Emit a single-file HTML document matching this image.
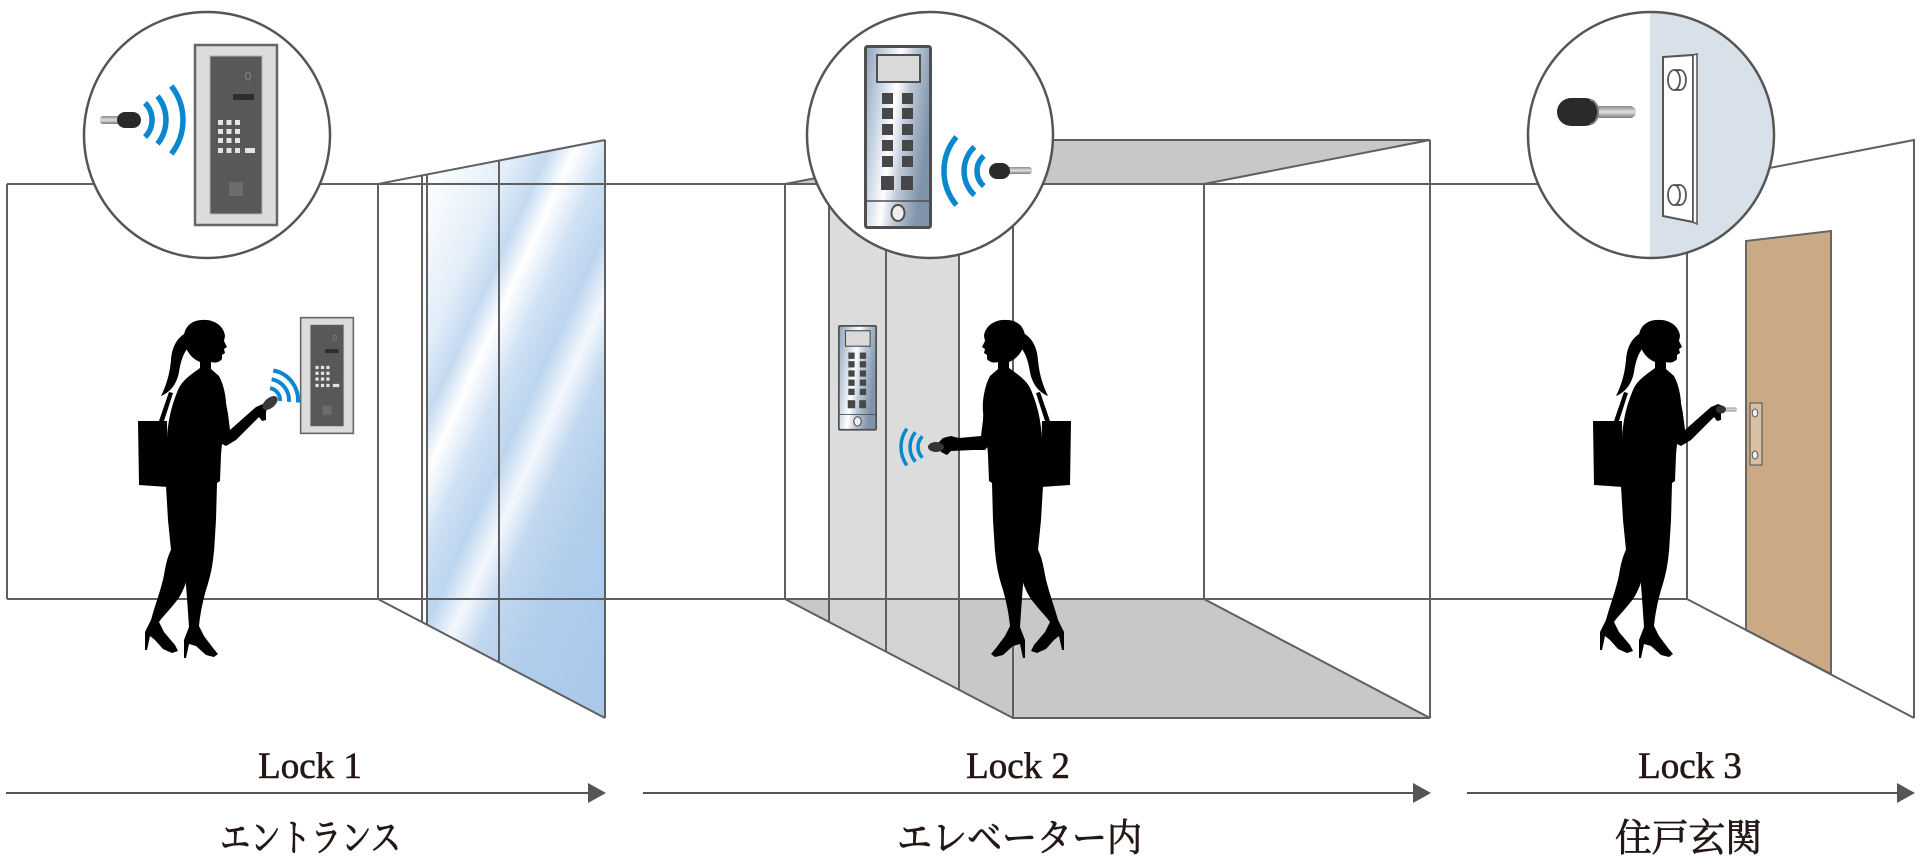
<!DOCTYPE html>
<html>
<head>
<meta charset="utf-8">
<style>
html,body{margin:0;padding:0;background:#fff;}
svg{display:block;}
text{font-family:"Liberation Serif","Noto Serif CJK SC",serif;fill:#231815;}
</style>
</head>
<body>
<svg width="1920" height="868" viewBox="0 0 1920 868" xmlns="http://www.w3.org/2000/svg">
<defs>
  <linearGradient id="glass" gradientUnits="userSpaceOnUse" x1="427" y1="174" x2="780" y2="335">
    <stop offset="0" stop-color="#ffffff"/>
    <stop offset="0.18" stop-color="#e3eef9"/>
    <stop offset="0.26" stop-color="#c4daf1"/>
    <stop offset="0.32" stop-color="#ffffff"/>
    <stop offset="0.40" stop-color="#cfe1f4"/>
    <stop offset="0.48" stop-color="#bcd5ef"/>
    <stop offset="0.55" stop-color="#f4f8fd"/>
    <stop offset="0.62" stop-color="#c2d8f0"/>
    <stop offset="0.75" stop-color="#b0cdeb"/>
    <stop offset="1" stop-color="#a8c8ea"/>
  </linearGradient>
  <linearGradient id="metal" x1="0" y1="0" x2="1" y2="0.35">
    <stop offset="0" stop-color="#8ea2ba"/>
    <stop offset="0.3" stop-color="#d0dae6"/>
    <stop offset="0.5" stop-color="#ffffff"/>
    <stop offset="0.68" stop-color="#bfcbd9"/>
    <stop offset="1" stop-color="#7f93ab"/>
  </linearGradient>
  <linearGradient id="rod" x1="0" y1="0" x2="0" y2="1">
    <stop offset="0" stop-color="#8a8a8a"/>
    <stop offset="0.5" stop-color="#e2e2e2"/>
    <stop offset="1" stop-color="#7a7a7a"/>
  </linearGradient>
  <clipPath id="c3"><circle cx="1651" cy="135" r="123"/></clipPath>

  <g id="body" fill="#000">
    <path d="M202 320 C214 319 224 326 225 336 L224 341 L227 347 L224 349 L225 353 L222 355 L222 359 C219 363 214 363 211 362 L211 369 L219 376 C224 385 227 400 226 412 C225 425 222 440 221 455 L220 481 L217 483 L216 520 L214 552 L171 550 L168 520 L166 486 L167 440 C168 415 174 400 178 390 C182 380 192 374 200 368 L200 362 C190 358 184 348 184 337 C184 327 192 320 202 320 Z"/>
    <path d="M188 332 C178 336 172 346 171 360 C170 372 167 384 161 396 C171 392 177 383 179 372 C181 360 184 350 192 344 Z"/>
    <path d="M138 421 L167 421 L168 487 L139 485 Z"/>
    <path d="M159 421 L169 392 L173 393 L164 421 Z"/>
    <path d="M172 548 L192 550 C191 566 188 582 180 596 C172 608 163 616 159 622 L164 632 L175 645 L178 651 L172 653 L163 649 L155 640 L150 636 L147 650 L145 650 L145 632 L151 620 C155 605 161 590 164 575 C166 563 168 555 172 548 Z"/>
    <path d="M188 550 L214 550 C213 565 210 578 206 590 C202 604 200 616 199 626 L204 636 L213 648 L218 654 L214 657 L206 655 L196 646 L189 644 L186 658 L184 658 L184 640 L189 627 C188 612 187 598 186 585 C186 572 187 560 188 550 Z"/>
  </g>
  <path id="armA" fill="#000" d="M216 384 C222 390 226 400 228 414 L230 430 L248 414 L256 407 L263 404 L268 406 L266 412 L266 420 L262 421 L259 417 L236 440 L226 446 L220 443 C218 425 216 405 216 384 Z"/>
  <path id="armB" fill="#000" d="M216 384 C222 390 225 405 226 420 L228 436 L250 438 L258 436 L266 438 L270 442 L268 452 L262 455 L258 451 L236 450 L224 450 L219 444 C218 425 216 405 216 384 Z"/>

  <g id="panel1">
    <rect x="1" y="1" width="82" height="180" fill="#dcdcdc" stroke="#666" stroke-width="2.5"/>
    <rect x="16" y="12" width="52" height="158" fill="#585858" stroke="#b0b0b0" stroke-width="1"/>
    <rect x="39" y="50" width="21" height="6" fill="#2e2e2e"/>
    <ellipse cx="54" cy="32" rx="2.5" ry="4" fill="none" stroke="#888" stroke-width="1"/>
    <g fill="#e4e4e4">
      <rect x="24" y="76" width="5" height="5"/><rect x="32.5" y="76" width="5" height="5"/><rect x="41" y="76" width="5" height="5"/>
      <rect x="24" y="85" width="5" height="5"/><rect x="32.5" y="85" width="5" height="5"/><rect x="41" y="85" width="5" height="5"/>
      <rect x="24" y="94" width="5" height="5"/><rect x="32.5" y="94" width="5" height="5"/><rect x="41" y="94" width="5" height="5"/>
      <rect x="24" y="104" width="5" height="5"/><rect x="32.5" y="104" width="5" height="5"/><rect x="41" y="104" width="5" height="5"/><rect x="51" y="104" width="10" height="5"/>
    </g>
    <rect x="35" y="138" width="14" height="14" fill="#6c6c6c"/>
  </g>

  <g id="panel2">
    <rect x="1.5" y="1.5" width="65" height="181" rx="2" fill="url(#metal)" stroke="#4f4f4f" stroke-width="3"/>
    <rect x="13" y="10" width="43" height="27" fill="#d9d9d9" stroke="#4f4f4f" stroke-width="2"/>
    <g fill="#474747">
      <rect x="18" y="48" width="11" height="11"/><rect x="38" y="48" width="11" height="11"/>
      <rect x="18" y="63" width="11" height="11"/><rect x="38" y="63" width="11" height="11"/>
      <rect x="18" y="79" width="11" height="11"/><rect x="38" y="79" width="11" height="11"/>
      <rect x="18" y="95" width="11" height="11"/><rect x="38" y="95" width="11" height="11"/>
      <rect x="18" y="111" width="11" height="11"/><rect x="38" y="111" width="11" height="11"/>
      <rect x="17" y="131" width="13" height="14"/><rect x="37" y="131" width="12" height="14"/>
    </g>
    <line x1="2" y1="156" x2="66" y2="156" stroke="#4f4f4f" stroke-width="1.5"/>
    <ellipse cx="34" cy="168" rx="6.5" ry="8" fill="#efefef" stroke="#4f4f4f" stroke-width="2"/>
  </g>
</defs>

<rect width="1920" height="868" fill="#fff"/>

<!-- Glass fill -->
<polygon points="427,174.5 605,140 605,718 427,624.7" fill="url(#glass)"/>

<!-- Elevator fills -->
<polygon points="785,184 1013,140 1430,140 1204,184" fill="#c8c8c8"/>
<polygon points="785,599 1204,599 1430,718 1013,718" fill="#c8c8c8"/>
<polygon points="829,175.5 959,150.4 959,599 829,599" fill="#dcdcdc"/>
<polygon points="829,599 959,599 959,689.8 829,622" fill="#d3d3d3"/>

<!-- Door -->
<polygon points="1746,241 1831,231 1831,674 1746,630" fill="#cba985" stroke="#666" stroke-width="2"/>
<rect x="1750" y="403" width="12" height="62" fill="#d8c0a2" stroke="#666" stroke-width="1.3"/>
<ellipse cx="1755" cy="413" rx="2.8" ry="4" fill="#eee" stroke="#555" stroke-width="1"/>
<ellipse cx="1755" cy="455" rx="2.8" ry="4" fill="#eee" stroke="#555" stroke-width="1"/>

<!-- Wire lines -->
<g fill="none" stroke="#5f5f5f" stroke-width="2">
  <path d="M7 184 H1687 M7 184 V599 M7 599 H1687"/>
  <path d="M378 184 L605 140 M378 599 L605 718 M378 184 V599 M422 175.5 V622 M427 174.5 V624.7 M499 160.5 V662.4 M605 140 V718"/>
  <path d="M785 184 V599 M785 184 L1013 140 H1430 M1204 184 L1430 140 M1204 184 V599 M1013 140 V718 H1430 M1430 140 V718 M785 599 L1013 718 M1204 599 L1430 718 M829 175.5 V622 M886 164.5 V651.7 M959 150.4 V689.8"/>
  <path d="M1687 184 V599 M1687 184 L1914 140 V718 M1687 599 L1914 718"/>
</g>

<!-- Small panels -->
<use href="#panel1" transform="translate(300,317) scale(0.643)"/>
<use href="#panel2" transform="translate(838,325) scale(0.574)"/>

<!-- Woman 1 -->
<use href="#body"/>
<use href="#armA"/>
<ellipse cx="270" cy="403" rx="9" ry="5" transform="rotate(-40 270 403)" fill="#3a3a3a"/>
<g fill="none" stroke="#0b87d0" stroke-width="4">
  <path d="M270.1 388.2 A12 12 0 0 1 280 401"/>
  <path d="M271.6 379.3 A21 21 0 0 1 288.9 401.8"/>
  <path d="M273.2 370.5 A30 30 0 0 1 297.9 402.6"/>
</g>

<!-- Woman 2 -->
<g transform="translate(1209,0) scale(-1,1)">
  <use href="#body"/>
  <use href="#armB"/>
</g>
<ellipse cx="936" cy="447" rx="8" ry="5" fill="#333"/>
<g fill="none" stroke="#0b87d0" stroke-width="3.5">
  <path d="M922.4 436.4 A15 15 0 0 0 922.4 457.6"/>
  <path d="M915.4 432.2 A23 23 0 0 0 915.4 461.8"/>
  <path d="M906.8 428.6 A32 32 0 0 0 906.8 465.4"/>
</g>

<!-- Woman 3 -->
<g transform="translate(1455,0)">
  <use href="#body"/>
  <use href="#armA"/>
</g>
<rect x="1725" y="407.5" width="12" height="4" rx="2" fill="url(#rod)"/>
<ellipse cx="1721" cy="409.5" rx="5" ry="4" fill="#333"/>

<!-- Circle 1 -->
<circle cx="207" cy="135" r="123" fill="#fff" stroke="#555" stroke-width="2.5"/>
<use href="#panel1" transform="translate(194,44)"/>
<rect x="100" y="116" width="22" height="8" rx="3" fill="url(#rod)"/>
<rect x="117" y="112" width="24" height="16" rx="8" fill="#2a2a2a"/>
<g fill="none" stroke="#0b87d0" stroke-width="5.5">
  <path d="M145 103 A24 24 0 0 1 145 137"/>
  <path d="M157.5 96.1 A38 38 0 0 1 157.5 143.9"/>
  <path d="M171.3 86.1 A55 55 0 0 1 171.3 153.9"/>
</g>

<!-- Circle 2 -->
<circle cx="930" cy="135" r="123" fill="#fff" stroke="#555" stroke-width="2.5"/>
<use href="#panel2" transform="translate(864,45)"/>
<rect x="1005" y="167" width="27" height="7" rx="3" fill="url(#rod)"/>
<rect x="989" y="163" width="21" height="16" rx="8" fill="#2a2a2a"/>
<g fill="none" stroke="#0b87d0" stroke-width="5.5">
  <path d="M983.9 155.9 A20 20 0 0 0 983.9 186.1"/>
  <path d="M974.5 146.9 A33 33 0 0 0 974.5 195.1"/>
  <path d="M956.4 136.9 A53 53 0 0 0 956.4 205.1"/>
</g>

<!-- Circle 3 -->
<circle cx="1651" cy="135" r="123" fill="#fff"/>
<rect x="1650" y="0" width="140" height="270" fill="#d8e1e9" clip-path="url(#c3)"/>
<circle cx="1651" cy="135" r="123" fill="none" stroke="#555" stroke-width="2.5"/>
<polygon points="1663,57 1693,55 1693,222 1663,216" fill="#fff" stroke="#555" stroke-width="2"/>
<polygon points="1693,55 1697,54 1697,224 1693,222" fill="#fff" stroke="#555" stroke-width="1.5"/>
<g fill="#fff" stroke="#555" stroke-width="1.8">
  <ellipse cx="1680" cy="80" rx="6" ry="10"/>
  <path d="M1674 70 H1680 M1674 90 H1680"/>
  <ellipse cx="1674" cy="80" rx="6" ry="10"/>
  <ellipse cx="1680" cy="195" rx="6" ry="10"/>
  <path d="M1674 185 H1680 M1674 205 H1680"/>
  <ellipse cx="1674" cy="195" rx="6" ry="10"/>
</g>
<rect x="1590" y="106" width="46" height="12" rx="6" fill="url(#rod)"/>
<rect x="1557" y="98" width="42" height="28" rx="14" fill="#2a2a2a"/>
<path d="M1590 100 A8 12 0 0 1 1590 124" fill="none" stroke="#777" stroke-width="2"/>

<!-- Arrows -->
<path d="M6 793 H590 M643 793 H1414 M1467 793 H1898" stroke="#555" stroke-width="2"/>
<g fill="#555">
  <polygon points="588,783 606,793 588,803"/>
  <polygon points="1413,783 1431,793 1413,803"/>
  <polygon points="1897,783 1915,793 1897,803"/>
</g>

<!-- Labels -->
<g stroke="#231815" stroke-width="0.6">
<text x="310" y="778" font-size="37" text-anchor="middle">Lock 1</text>
<text x="1018" y="778" font-size="37" text-anchor="middle">Lock 2</text>
<text x="1690" y="778" font-size="37" text-anchor="middle">Lock 3</text>
</g>
<g stroke="#231815" stroke-width="0.8">
<text x="220" y="851" font-size="38" textLength="181" lengthAdjust="spacingAndGlyphs">エントランス</text>
<text x="897" y="851" font-size="38" textLength="245" lengthAdjust="spacingAndGlyphs">エレベーター内</text>
<text x="1615" y="851" font-size="38" textLength="147" lengthAdjust="spacingAndGlyphs">住戸玄関</text>
</g>
</svg>
</body>
</html>
